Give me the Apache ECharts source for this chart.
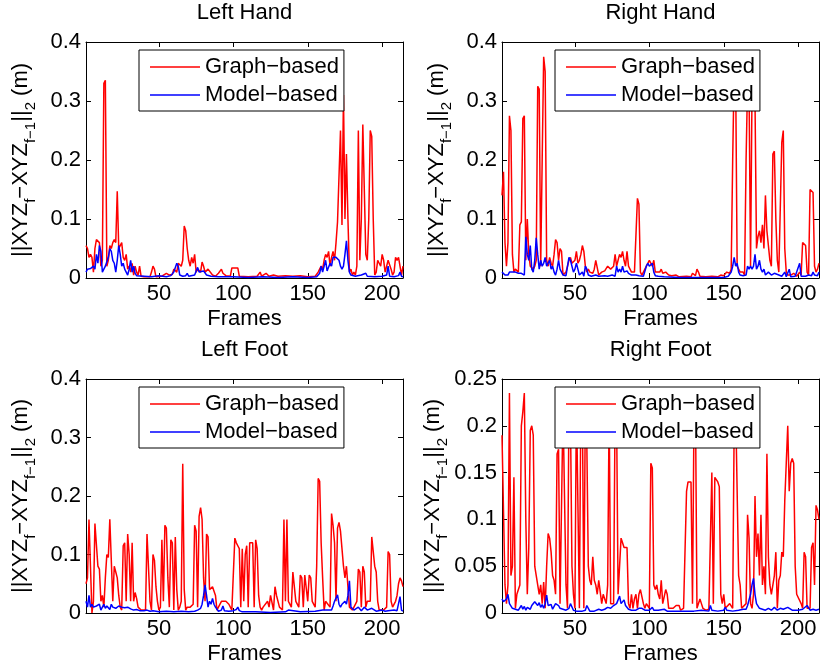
<!DOCTYPE html>
<html>
<head>
<meta charset="utf-8">
<script src="https://cdn.jsdelivr.net/npm/echarts@6/dist/echarts.min.js"></script>
<style>
  html, body { margin: 0; background: #fff; }
  #chart { width: 820px; height: 666px; }
</style>
</head>
<body>
<div id="chart"></div>
<script>
// frame / displacement pairs
const lhGraph = [[1,0.055],[2,0.05],[3,0.035],[4,0.04],[5,0.035],[6,0.01],[7,0.05],[8,0.065],[9,0.068],[10,0.06],[11,0.02],[12,0.03],[13,0.33],[14,0.335],[15,0.02],[16,0.03],[17,0.055],[18,0.05],[19,0.06],[20,0.065],[21,0.06],[22,0.147],[23,0.05],[24,0.055],[25,0.06],[26,0.035],[27,0.03],[28,0.04],[29,0.015],[30,0.02],[31,0.01],[32,0.025],[33,0.005],[34,0.02],[35,0.01],[36,0.005],[37,0.02],[38,0.003],[40,0.002],[44,0.002],[45,0.01],[46,0.02],[47,0.015],[48,0.002],[52,0.003],[55,0.008],[57,0.005],[59,0.006],[60,0.015],[62,0.01],[63,0.025],[64,0.028],[65,0.02],[66,0.03],[67,0.088],[68,0.08],[69,0.05],[70,0.03],[71,0.02],[72,0.035],[73,0.025],[74,0.04],[75,0.01],[76,0.015],[78,0.01],[79,0.027],[80,0.02],[81,0.01],[83,0.015],[84,0.012],[86,0.005],[88,0.003],[90,0.008],[92,0.015],[93,0.008],[95,0.004],[98,0.003],[99,0.017],[103,0.017],[104,0.003],[110,0.002],[116,0.003],[118,0.01],[119,0.003],[122,0.008],[124,0.003],[127,0.005],[130,0.003],[135,0.004],[140,0.003],[145,0.004],[150,0.002],[155,0.003],[157,0.01],[159,0.02],[160,0.015],[161,0.03],[162,0.04],[163,0.035],[164,0.045],[165,0.02],[166,0.035],[167,0.045],[168,0.03],[169,0.06],[170,0.095],[171,0.095],[172,0.25],[173,0.09],[174,0.31],[175,0.1],[176,0.21],[177,0.1],[178,0.01],[179,0.015],[180,0.005],[181,0.01],[182,0.005],[183,0.02],[184,0.25],[185,0.03],[186,0.1],[187,0.26],[188,0.15],[189,0.04],[190,0.03],[191,0.1],[192,0.25],[193,0.24],[194,0.1],[195,0.005],[196,0.01],[197,0.03],[198,0.025],[199,0.02],[200,0.04],[201,0.03],[202,0.01],[203,0.012],[204,0.03],[205,0.03],[206,0.015],[207,0.005],[208,0.01],[209,0.035],[210,0.03],[211,0.035],[212,0.035],[213,0.005],[214,0.02]];
const lhModel = [[1,0.01],[2,0.015],[3,0.015],[4,0.016],[5,0.015],[6,0.02],[7,0.015],[8,0.04],[9,0.025],[10,0.055],[11,0.045],[12,0.01],[13,0.015],[14,0.02],[15,0.022],[16,0.035],[17,0.05],[18,0.045],[19,0.03],[20,0.025],[21,0.01],[22,0.03],[23,0.055],[24,0.04],[25,0.02],[26,0.025],[27,0.015],[28,0.01],[29,0.005],[30,0.015],[31,0.03],[32,0.01],[33,0.02],[34,0.008],[35,0.004],[36,0.002],[40,0.003],[45,0.002],[50,0.004],[55,0.002],[58,0.004],[60,0.01],[62,0.025],[63,0.02],[64,0.005],[66,0.003],[68,0.004],[69,0.008],[70,0.003],[74,0.005],[76,0.018],[77,0.01],[78,0.008],[80,0.012],[81,0.01],[82,0.005],[85,0.003],[90,0.002],[100,0.002],[110,0.001],[120,0.002],[130,0.001],[140,0.002],[150,0.001],[156,0.002],[158,0.008],[159,0.02],[160,0.01],[161,0.012],[162,0.03],[163,0.012],[164,0.015],[165,0.025],[166,0.02],[167,0.035],[168,0.037],[169,0.035],[170,0.036],[171,0.03],[172,0.02],[173,0.015],[174,0.02],[175,0.04],[176,0.063],[177,0.03],[178,0.01],[179,0.005],[182,0.003],[186,0.005],[189,0.008],[190,0.003],[195,0.002],[200,0.003],[203,0.005],[204,0.02],[205,0.003],[208,0.002],[211,0.004],[212,0.01],[213,0.003],[214,0.002]];

const rhGraph = [[1,0.14],[2,0.18],[3,0.06],[4,0.02],[5,0.06],[6,0.275],[7,0.25],[8,0.04],[9,0.01],[10,0.015],[11,0.015],[12,0.01],[13,0.09],[14,0.095],[15,0.27],[16,0.275],[17,0.03],[18,0.1],[19,0.04],[20,0.02],[21,0.02],[22,0.015],[23,0.02],[24,0.03],[25,0.325],[26,0.32],[27,0.02],[28,0.2],[29,0.375],[30,0.35],[31,0.03],[32,0.02],[33,0.035],[34,0.025],[35,0.02],[36,0.04],[37,0.065],[38,0.06],[39,0.03],[40,0.05],[41,0.045],[42,0.005],[43,0.008],[44,0.01],[45,0.02],[46,0.03],[47,0.035],[48,0.025],[49,0.025],[50,0.03],[51,0.045],[52,0.025],[53,0.03],[54,0.04],[55,0.055],[56,0.045],[57,0.02],[58,0.01],[59,0.015],[60,0.01],[61,0.01],[62,0.008],[63,0.015],[64,0.03],[65,0.03],[66,0.005],[67,0.008],[68,0.01],[70,0.012],[72,0.02],[74,0.015],[76,0.02],[77,0.04],[78,0.02],[79,0.03],[80,0.04],[81,0.035],[82,0.045],[83,0.03],[84,0.02],[85,0.045],[86,0.02],[87,0.015],[88,0.01],[90,0.01],[91,0.01],[92,0.135],[93,0.125],[94,0.01],[95,0.005],[96,0.008],[97,0.015],[98,0.02],[100,0.03],[101,0.025],[102,0.02],[103,0.03],[104,0.01],[105,0.008],[107,0.01],[108,0.015],[109,0.008],[111,0.01],[113,0.005],[115,0.004],[118,0.005],[120,0.002],[125,0.003],[128,0.002],[129,0.008],[131,0.004],[132,0.015],[133,0.01],[134,0.003],[138,0.002],[142,0.003],[146,0.002],[148,0.005],[150,0.004],[152,0.01],[154,0.008],[155,0.015],[156,0.2],[157,0.35],[158,0.34],[159,0.02],[160,0.02],[161,0.01],[163,0.01],[164,0.005],[165,0.2],[166,0.33],[167,0.32],[168,0.02],[169,0.32],[170,0.33],[171,0.3],[172,0.05],[173,0.07],[174,0.08],[175,0.06],[176,0.09],[177,0.05],[178,0.14],[179,0.08],[180,0.055],[181,0.03],[182,0.02],[183,0.21],[184,0.215],[185,0.1],[186,0.03],[187,0.01],[188,0.01],[189,0.23],[190,0.25],[191,0.05],[192,0.01],[193,0.005],[195,0.005],[197,0.008],[198,0.01],[199,0.003],[201,0.01],[202,0.005],[203,0.06],[204,0.06],[205,0.055],[206,0.01],[207,0.005],[208,0.15],[209,0.15],[210,0.145],[211,0.02],[212,0.01],[213,0.015],[214,0.025]];
const rhModel = [[1,0.01],[2,0.008],[3,0.005],[4,0.003],[5,0.005],[6,0.01],[7,0.012],[8,0.01],[9,0.012],[10,0.01],[11,0.012],[12,0.008],[13,0.005],[14,0.008],[15,0.01],[16,0.005],[17,0.07],[18,0.04],[19,0.03],[20,0.055],[21,0.015],[22,0.01],[23,0.03],[24,0.068],[25,0.04],[26,0.015],[27,0.03],[28,0.02],[29,0.025],[30,0.035],[31,0.02],[32,0.025],[33,0.03],[34,0.015],[35,0.02],[36,0.01],[37,0.005],[38,0.015],[39,0.03],[40,0.015],[41,0.01],[42,0.005],[44,0.004],[45,0.006],[46,0.035],[47,0.03],[48,0.02],[49,0.01],[50,0.015],[51,0.025],[52,0.015],[53,0.005],[54,0.005],[55,0.01],[56,0.003],[57,0.02],[58,0.015],[59,0.005],[61,0.003],[64,0.005],[66,0.003],[70,0.004],[72,0.003],[75,0.005],[77,0.003],[78,0.02],[79,0.01],[80,0.015],[81,0.01],[82,0.02],[83,0.01],[84,0.012],[85,0.012],[86,0.008],[88,0.005],[91,0.005],[93,0.004],[96,0.003],[98,0.02],[99,0.025],[100,0.02],[101,0.018],[102,0.025],[103,0.01],[104,0.004],[106,0.003],[110,0.002],[120,0.001],[130,0.001],[140,0.001],[150,0.001],[153,0.003],[155,0.01],[156,0.02],[157,0.035],[158,0.02],[159,0.025],[160,0.01],[161,0.005],[163,0.004],[165,0.005],[166,0.02],[167,0.015],[168,0.02],[169,0.015],[170,0.02],[171,0.04],[172,0.015],[173,0.02],[174,0.03],[175,0.015],[176,0.01],[177,0.015],[178,0.005],[180,0.01],[182,0.005],[184,0.008],[185,0.01],[187,0.005],[189,0.003],[191,0.01],[192,0.002],[194,0.015],[195,0.002],[198,0.003],[201,0.025],[202,0.003],[205,0.003],[207,0.005],[209,0.004],[210,0.01],[211,0.005],[213,0.004],[214,0.01]];

const lfGraph = [[1,0.05],[2,0.06],[3,0.16],[4,0.16],[5,0],[6,0.02],[7,0.153],[8,0.15],[9,0.08],[10,0.075],[11,0.02],[12,0.03],[13,0.01],[14,0.06],[15,0.1],[16,0.095],[17,0.16],[18,0.16],[19,0.02],[20,0.08],[21,0.07],[22,0.06],[23,0.03],[24,0.01],[25,0.005],[26,0.115],[27,0.12],[28,0.02],[29,0.135],[30,0.1],[31,0.02],[32,0.12],[33,0.02],[34,0.035],[35,0.025],[36,0.01],[38,0.005],[41,0.005],[42,0.135],[43,0.135],[44,0.02],[45,0.005],[46,0.1],[47,0.09],[48,0.045],[49,0.02],[50,0.005],[51,0.01],[52,0.125],[53,0.02],[54,0.15],[55,0.145],[56,0.06],[57,0.01],[58,0.125],[59,0.12],[60,0.005],[61,0.13],[62,0.04],[63,0.005],[64,0.01],[65,0.02],[66,0.255],[67,0.04],[68,0.005],[69,0.01],[71,0.01],[73,0.015],[74,0.15],[75,0.14],[76,0.01],[77,0.165],[78,0.18],[79,0.16],[80,0.06],[81,0.02],[82,0.135],[83,0.13],[84,0.04],[85,0.04],[86,0.045],[88,0.03],[89,0.005],[90,0.01],[92,0.02],[95,0.02],[97,0.015],[99,0.005],[101,0.128],[102,0.12],[103,0.115],[104,0.11],[105,0.01],[106,0.11],[107,0.02],[108,0.1],[109,0.115],[110,0.01],[111,0.12],[112,0.12],[113,0.12],[114,0.01],[115,0.125],[116,0.11],[117,0.03],[118,0.01],[119,0.005],[120,0.01],[123,0.02],[124,0.01],[125,0.03],[127,0.005],[128,0.045],[129,0.03],[131,0.01],[133,0.005],[134,0.16],[135,0.02],[136,0.16],[137,0.02],[139,0.01],[140,0.07],[141,0.07],[142,0.02],[144,0.01],[145,0.065],[146,0.06],[147,0.01],[148,0.065],[149,0.065],[150,0.02],[151,0.065],[152,0.06],[153,0.02],[155,0.01],[156,0.08],[157,0.23],[158,0.225],[159,0.12],[160,0.06],[161,0.005],[162,0.02],[163,0.02],[165,0.01],[166,0.17],[167,0.15],[168,0.12],[169,0.02],[170,0.145],[171,0.155],[172,0.14],[173,0.11],[174,0.08],[175,0.06],[176,0.08],[177,0.08],[178,0.01],[180,0.005],[183,0.02],[184,0.075],[185,0.07],[186,0.01],[187,0.08],[188,0.07],[189,0.01],[190,0.02],[192,0.02],[193,0.13],[194,0.13],[195,0.08],[196,0.07],[197,0.02],[198,0.005],[201,0.005],[203,0.01],[204,0.105],[205,0.1],[206,0.02],[207,0.01],[209,0.02],[210,0.03],[211,0.05],[212,0.06],[213,0.055],[214,0.045]];
const lfModel = [[1,0.02],[2,0.01],[3,0.03],[4,0.01],[5,0.015],[6,0.01],[7,0.008],[8,0.012],[9,0.01],[10,0.015],[11,0.005],[12,0.01],[13,0.015],[14,0.008],[15,0.012],[16,0.01],[17,0.006],[18,0.015],[19,0.01],[20,0.012],[21,0.008],[22,0.01],[23,0.012],[24,0.009],[25,0.01],[26,0.007],[27,0.009],[28,0.006],[29,0.01],[30,0.008],[31,0.007],[32,0.01],[33,0.005],[34,0.008],[35,0.006],[36,0.008],[37,0.004],[38,0.007],[40,0.004],[42,0.005],[44,0.003],[46,0.004],[50,0.002],[55,0.003],[60,0.002],[65,0.003],[70,0.002],[74,0.003],[76,0.005],[78,0.008],[79,0.015],[80,0.03],[81,0.048],[82,0.03],[83,0.01],[84,0.02],[85,0.015],[86,0.025],[87,0.015],[88,0.01],[90,0.003],[92,0.005],[93,0.012],[94,0.004],[97,0.003],[100,0.004],[102,0.006],[103,0.01],[104,0.004],[106,0.002],[115,0.002],[125,0.001],[135,0.002],[137,0.005],[138,0.002],[145,0.002],[155,0.003],[160,0.005],[164,0.005],[166,0.005],[167,0.012],[168,0.02],[170,0.031],[171,0.015],[172,0.01],[173,0.015],[174,0.012],[175,0.02],[176,0.015],[177,0.03],[178,0.055],[179,0.01],[181,0.005],[184,0.01],[186,0.004],[188,0.01],[190,0.005],[193,0.008],[196,0.003],[200,0.005],[202,0.003],[204,0.004],[208,0.005],[210,0.004],[212,0.028],[213,0.005],[214,0.003]];

const rfGraph = [[1,0.19],[2,0.19],[3,0.03],[4,0.01],[5,0.03],[6,0.235],[7,0.04],[8,0.05],[9,0.145],[10,0.005],[11,0.02],[13,0.03],[14,0.2],[15,0.215],[16,0.235],[17,0.1],[18,0.02],[19,0.07],[20,0.195],[21,0.2],[22,0.19],[23,0.05],[24,0.04],[25,0.04],[26,0.02],[27,0.03],[28,0.01],[29,0.033],[30,0.005],[31,0.05],[32,0.085],[33,0.08],[34,0.065],[35,0.04],[36,0.035],[37,0.02],[38,0.17],[39,0.175],[40,0.01],[41,0.01],[42,0.22],[43,0.22],[44,0.03],[45,0.005],[46,0.22],[47,0.21],[48,0.05],[49,0.02],[50,0.005],[51,0.23],[52,0.23],[53,0.005],[54,0.23],[55,0.22],[56,0.005],[57,0.22],[58,0.18],[59,0.05],[60,0.035],[61,0.03],[62,0.06],[63,0.035],[64,0.03],[65,0.02],[66,0.035],[67,0.035],[68,0.01],[69,0.02],[70,0.02],[71,0.01],[72,0.03],[73,0.22],[74,0.01],[75,0.01],[76,0.01],[77,0.22],[78,0.21],[79,0.02],[80,0.02],[81,0.08],[82,0.075],[83,0.07],[84,0.07],[85,0.07],[86,0.01],[87,0.005],[88,0.02],[89,0.005],[90,0.015],[91,0.02],[92,0.005],[93,0.02],[94,0.025],[95,0.025],[96,0.01],[97,0.005],[98,0.01],[100,0.005],[101,0.16],[102,0.155],[103,0.03],[104,0.025],[105,0.03],[106,0.02],[107,0.015],[108,0.035],[109,0.01],[110,0.01],[111,0.025],[112,0.02],[113,0.005],[116,0.005],[118,0.008],[119,0.01],[120,0.008],[121,0.003],[123,0.005],[124,0.005],[125,0.13],[126,0.14],[127,0.14],[128,0.14],[129,0.01],[130,0.21],[131,0.22],[132,0.005],[133,0.005],[134,0.015],[135,0.01],[136,0.005],[138,0.003],[140,0.004],[141,0.006],[142,0.15],[143,0.01],[144,0.145],[145,0.145],[146,0.14],[147,0.135],[148,0.02],[149,0.01],[150,0.02],[151,0.005],[154,0.01],[156,0.005],[157,0.2],[158,0.22],[159,0.22],[160,0.04],[161,0.03],[162,0.005],[163,0.005],[165,0.01],[166,0.105],[167,0.08],[168,0.01],[169,0.005],[170,0.02],[171,0.125],[172,0.06],[173,0.085],[174,0.04],[175,0.105],[176,0.03],[177,0.05],[178,0.02],[179,0.17],[180,0.06],[181,0.03],[182,0.02],[183,0.02],[184,0.04],[185,0.065],[186,0.005],[187,0.035],[188,0.04],[189,0.065],[190,0.06],[191,0.12],[192,0.16],[193,0.2],[194,0.13],[195,0.16],[196,0.165],[197,0.16],[198,0.05],[199,0.02],[200,0.02],[202,0.01],[203,0.005],[204,0.065],[205,0.06],[206,0.005],[207,0.005],[208,0.005],[209,0.07],[210,0.075],[211,0.03],[212,0.115],[213,0.11],[214,0.1]];
const rfModel = [[1,0.015],[2,0.012],[3,0.01],[4,0.015],[5,0.02],[6,0.01],[7,0.008],[8,0.005],[9,0.007],[10,0.004],[11,0.006],[12,0.003],[13,0.005],[14,0.008],[15,0.004],[16,0.007],[17,0.003],[18,0.006],[19,0.005],[20,0.004],[21,0.008],[22,0.01],[23,0.012],[24,0.01],[25,0.008],[26,0.011],[27,0.006],[28,0.009],[29,0.005],[30,0.01],[31,0.019],[32,0.008],[33,0.006],[34,0.009],[35,0.004],[36,0.007],[37,0.01],[38,0.01],[39,0.008],[40,0.005],[42,0.004],[44,0.003],[46,0.005],[47,0.01],[48,0.011],[49,0.003],[51,0.002],[55,0.002],[57,0.003],[58,0.008],[59,0.005],[60,0.002],[63,0.002],[66,0.004],[68,0.003],[70,0.004],[72,0.006],[74,0.005],[76,0.008],[78,0.01],[79,0.012],[80,0.018],[81,0.01],[82,0.008],[83,0.014],[84,0.008],[85,0.006],[86,0.004],[88,0.003],[91,0.003],[93,0.005],[95,0.005],[97,0.003],[100,0.003],[102,0.006],[103,0.003],[106,0.003],[110,0.004],[112,0.002],[120,0.002],[130,0.002],[135,0.003],[140,0.002],[141,0.008],[142,0.003],[146,0.002],[150,0.003],[151,0.006],[152,0.003],[156,0.002],[160,0.003],[163,0.004],[165,0.004],[166,0.008],[167,0.01],[168,0.02],[169,0.03],[170,0.037],[171,0.02],[172,0.01],[173,0.008],[174,0.005],[175,0.006],[176,0.004],[178,0.003],[180,0.005],[182,0.003],[184,0.006],[186,0.003],[188,0.005],[190,0.004],[193,0.006],[196,0.003],[200,0.003],[203,0.004],[206,0.008],[208,0.003],[210,0.004],[212,0.003],[214,0.004]];

const panelTitles = ['Left Hand', 'Right Hand', 'Left Foot', 'Right Foot'];
const graphData = [lhGraph, rhGraph, lfGraph, rfGraph];
const modelData = [lhModel, rhModel, lfModel, rfModel];
const yMax = [0.4, 0.4, 0.4, 0.25];
const yStep = [0.1, 0.1, 0.1, 0.05];
const xTicks = [50, 100, 150, 200];
const seriesNames = ['Graph\u2212based', 'Model\u2212based'];

const FONT = '"Liberation Sans", Arial, Helvetica, sans-serif';
// panel boxes: left, top, width, height
const boxes = [
  [86, 42, 317, 236],
  [502, 42, 317, 236],
  [86, 379, 317, 235],
  [502, 379, 317, 235]
];

const chart = echarts.init(document.getElementById('chart'));

const grid = [], xAxis = [], yAxis = [], series = [], title = [], legend = [];
boxes.forEach((b, i) => {
  grid.push({ left: b[0], top: b[1], width: b[2], height: b[3] });
  const lineStyle = { color: '#000', width: 1 };
  // bottom axis with labels
  xAxis.push({
    type: 'value', gridIndex: i, min: 1, max: 214, position: 'bottom',
    name: 'Frames', nameLocation: 'middle', nameGap: 30,
    nameTextStyle: { fontSize: 22, fontFamily: FONT, color: '#000' },
    axisLine: { show: true, onZero: false, lineStyle },
    axisTick: { show: true, inside: true, length: 5, customValues: xTicks, lineStyle },
    axisLabel: { show: true, margin: 5, fontSize: 22, fontFamily: FONT, color: '#000', customValues: xTicks },
    splitLine: { show: false }
  });
  // top axis, ticks only
  xAxis.push({
    type: 'value', gridIndex: i, min: 1, max: 214, position: 'top',
    axisLine: { show: true, onZero: false, lineStyle },
    axisTick: { show: true, inside: true, length: 5, customValues: xTicks, lineStyle },
    axisLabel: { show: false },
    splitLine: { show: false }
  });
  yAxis.push({
    type: 'value', gridIndex: i, min: 0, max: yMax[i], interval: yStep[i], position: 'left',
    name: '||XYZ{s|f}\u2212XYZ{s|f\u22121}||{s|2} (m)',
    nameLocation: 'middle', nameGap: 48, nameRotate: 90,
    nameTextStyle: {
      fontSize: 22, fontFamily: FONT, color: '#000',
      rich: {
        s: { fontSize: 15, fontFamily: FONT, color: '#000', padding: [19, 0, 0, 0], verticalAlign: 'bottom' }
      }
    },
    axisLine: { show: true, onZero: false, lineStyle },
    axisTick: { show: true, inside: true, length: 5, lineStyle },
    axisLabel: { show: true, margin: 5, fontSize: 22, fontFamily: FONT, color: '#000' },
    splitLine: { show: false }
  });
  yAxis.push({
    type: 'value', gridIndex: i, min: 0, max: yMax[i], interval: yStep[i], position: 'right',
    axisLine: { show: true, onZero: false, lineStyle },
    axisTick: { show: true, inside: true, length: 5, lineStyle },
    axisLabel: { show: false },
    splitLine: { show: false }
  });
  title.push({
    text: panelTitles[i], left: b[0] + b[2] / 2, top: b[1] - 40, textAlign: 'center', padding: 0,
    textStyle: { fontSize: 22, fontWeight: 'normal', fontFamily: FONT, color: '#000' }
  });
  legend.push({
    data: seriesNames, orient: 'vertical', left: b[0] + 53, top: b[1] + 8,
    backgroundColor: '#fff', borderColor: '#000', borderWidth: 1, borderRadius: 0,
    padding: [6, 5, 5, 11], itemGap: 6, itemWidth: 50, itemHeight: 1.6, icon: 'rect',
    textStyle: { fontSize: 22, fontFamily: FONT, color: '#000', lineHeight: 22, padding: [0, 0, 0, 0] },
    selectedMode: false
  });
  series.push({
    name: seriesNames[0], type: 'line', xAxisIndex: 2 * i, yAxisIndex: 2 * i,
    data: graphData[i], symbol: 'none', clip: true, z: 2,
    lineStyle: { color: '#ff0000', width: 1.5 }, itemStyle: { color: '#ff0000' }
  });
  series.push({
    name: seriesNames[1], type: 'line', xAxisIndex: 2 * i, yAxisIndex: 2 * i,
    data: modelData[i], symbol: 'none', clip: true, z: 3,
    lineStyle: { color: '#0000ff', width: 1.5 }, itemStyle: { color: '#0000ff' }
  });
});

chart.setOption({
  animation: false,
  backgroundColor: '#fff',
  title, legend, grid, xAxis, yAxis, series
});
</script>
</body>
</html>
